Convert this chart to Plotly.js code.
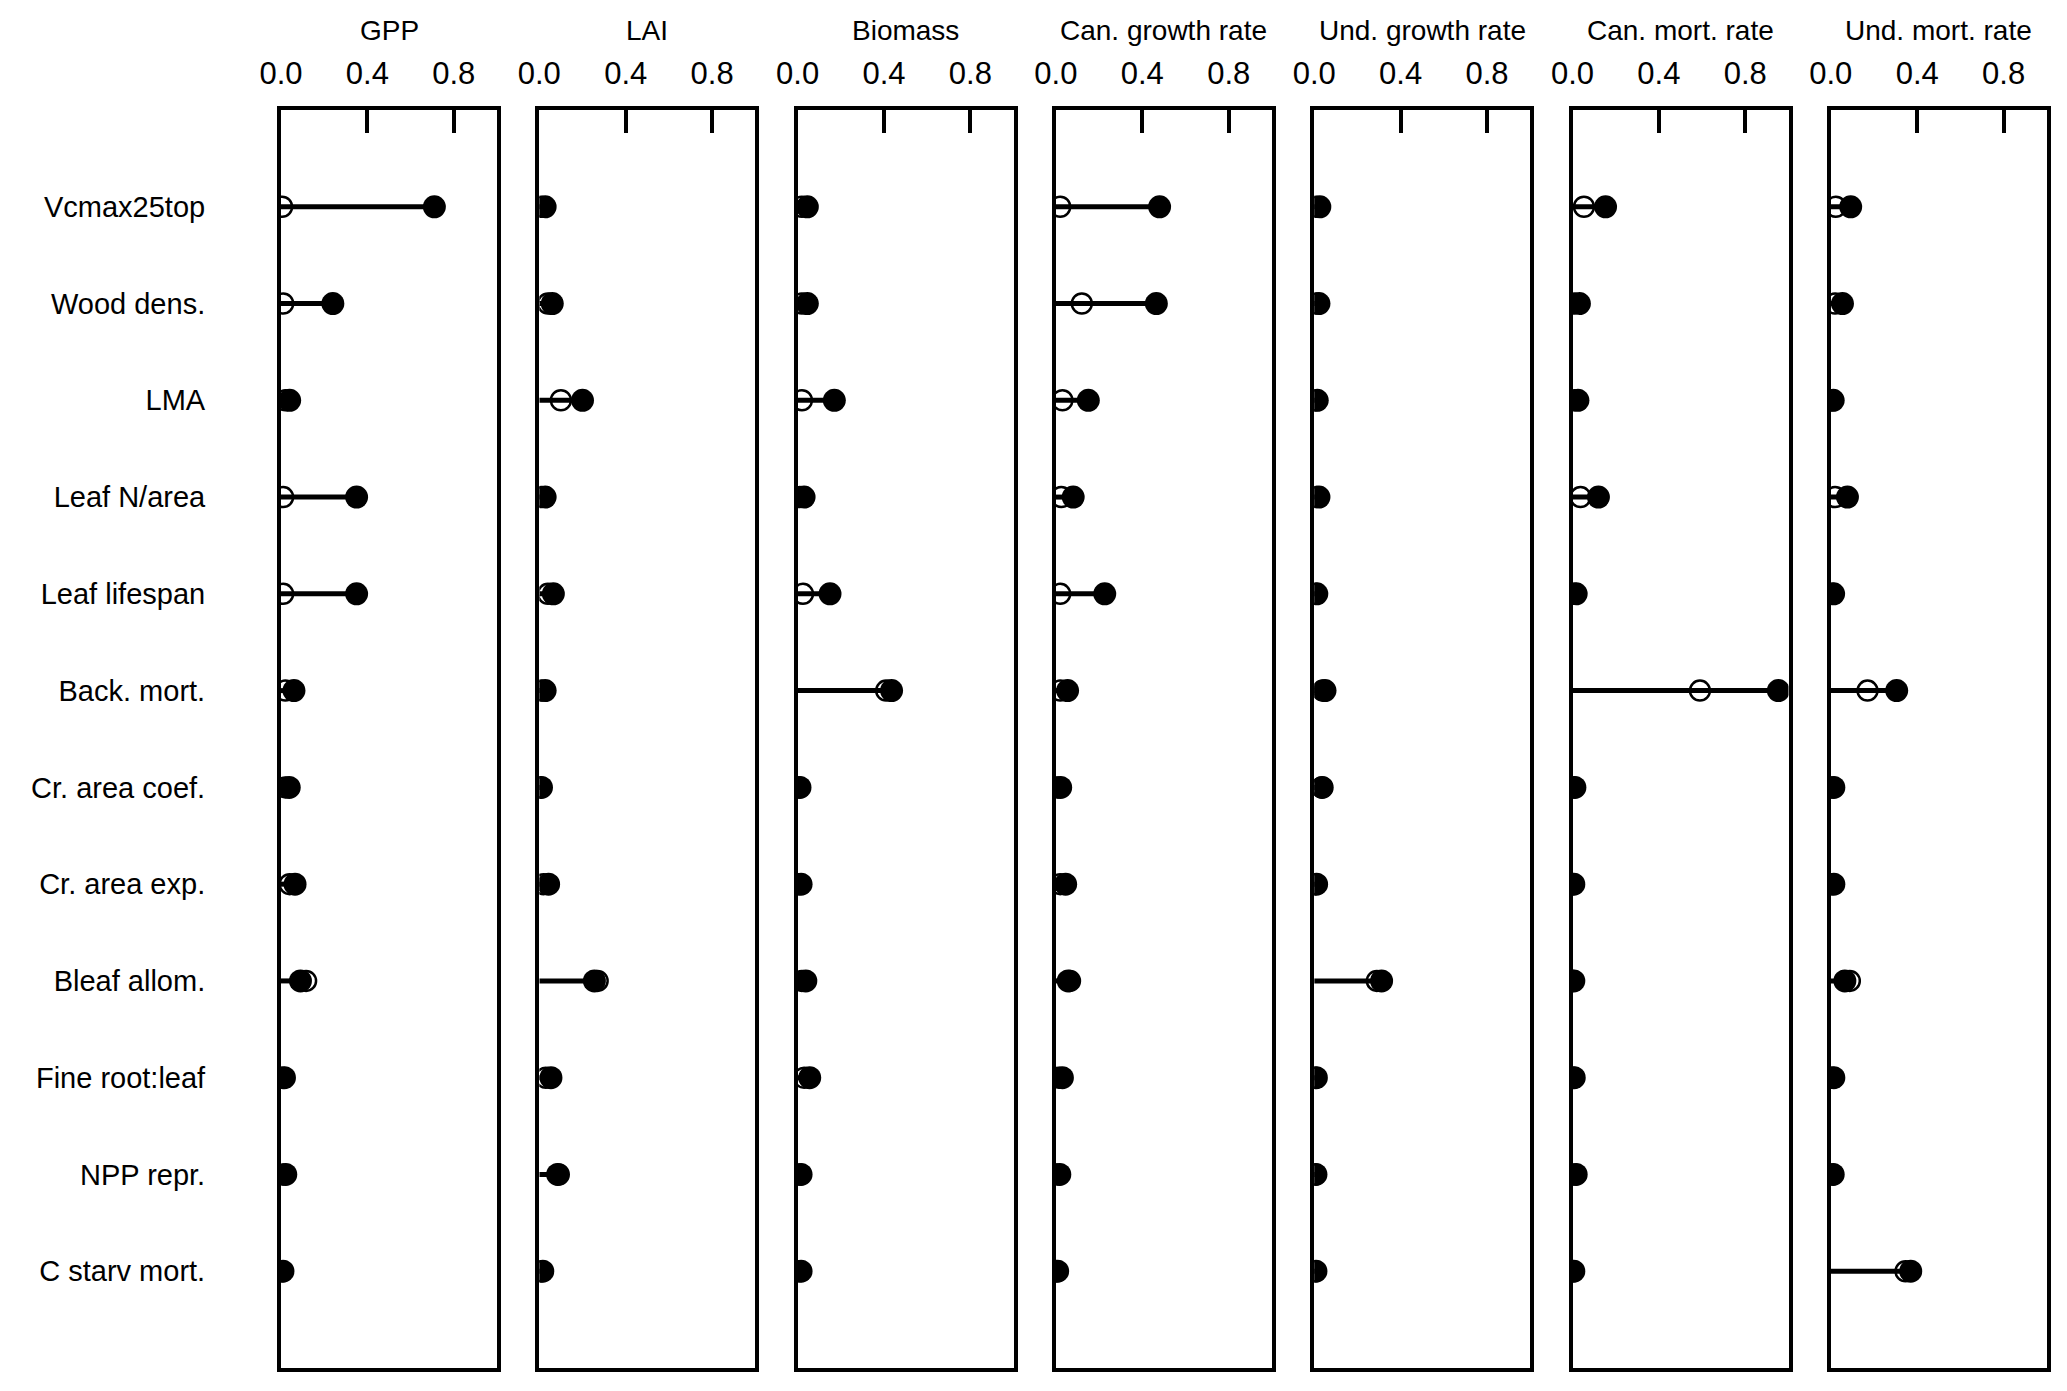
<!DOCTYPE html>
<html>
<head>
<meta charset="utf-8">
<script src="https://cdn.plot.ly/plotly-3.0.1.min.js"></script>
<style>
  body { margin: 0; background: #ffffff; }
  #sensPlot { width: 2067px; height: 1391px; }
</style>
</head>
<body>
<div id="sensPlot"></div>
<script>
/*
 * Sensitivity indices per parameter and output variable.
 * Filled circles = total index, open circles = first order index.
*/
var parameterNames = ["Vcmax25top", "Wood dens.", "LMA", "Leaf N/area",
                      "Leaf lifespan", "Back. mort.", "Cr. area coef.",
                      "Cr. area exp.", "Bleaf allom.", "Fine root:leaf",
                      "NPP repr.", "C starv mort."];
var panelTitles = ["GPP", "LAI", "Biomass", "Can. growth rate",
                   "Und. growth rate", "Can. mort. rate", "Und. mort. rate"];
var tickValues = [0, 0.4, 0.8];
var tickLabels = ["0.0", "0.4", "0.8"];

var gppTotal = [0.71, 0.24, 0.04, 0.35, 0.35, 0.06, 0.038, 0.065, 0.09, 0.016, 0.022, 0.009];
var gppFirst = [0.005, 0.01, 0.02, 0.01, 0.01, 0.02, 0.02, 0.04, 0.116, 0.008, 0.01, 0.004];

var laiTotal = [0.027, 0.06, 0.20, 0.027, 0.065, 0.027, 0.01, 0.043, 0.255, 0.054, 0.085, 0.016];
var laiFirst = [0.01, 0.04, 0.10, 0.01, 0.04, 0.01, 0.005, 0.02, 0.27, 0.03, 0.09, 0.008];

var biomassTotal = [0.045, 0.045, 0.17, 0.03, 0.15, 0.435, 0.011, 0.016, 0.038, 0.056, 0.016, 0.016];
var biomassFirst = [0.02, 0.02, 0.02, 0.01, 0.025, 0.41, 0.005, 0.008, 0.02, 0.03, 0.008, 0.008];

var canGrowthTotal = [0.48, 0.465, 0.15, 0.08, 0.226, 0.054, 0.022, 0.045, 0.057, 0.03, 0.018, 0.008];
var canGrowthFirst = [0.02, 0.12, 0.03, 0.025, 0.02, 0.02, 0.01, 0.02, 0.065, 0.015, 0.008, 0.004];

var undGrowthTotal = [0.026, 0.022, 0.014, 0.022, 0.012, 0.05, 0.037, 0.011, 0.312, 0.01, 0.008, 0.008];
var undGrowthFirst = [0.01, 0.01, 0.006, 0.01, 0.006, 0.04, 0.035, 0.005, 0.29, 0.005, 0.004, 0.004];

var canMortTotal = [0.153, 0.032, 0.025, 0.12, 0.017, 0.953, 0.011, 0.006, 0.006, 0.008, 0.017, 0.006];
var canMortFirst = [0.053, 0.01, 0.01, 0.037, 0.008, 0.59, 0.005, 0.003, 0.003, 0.004, 0.008, 0.003];

var undMortTotal = [0.092, 0.054, 0.011, 0.077, 0.013, 0.305, 0.014, 0.014, 0.065, 0.014, 0.011, 0.37];
var undMortFirst = [0.023, 0.02, 0.005, 0.02, 0.006, 0.17, 0.006, 0.006, 0.088, 0.006, 0.005, 0.346];

var totalIndex = [gppTotal, laiTotal, biomassTotal, canGrowthTotal,
                  undGrowthTotal, canMortTotal, undMortTotal];
var firstIndex = [gppFirst, laiFirst, biomassFirst, canGrowthFirst,
                  undGrowthFirst, canMortFirst, undMortFirst];

var figWidth = 2067;
var figHeight = 1391;
var fontFamily = "Liberation Sans, Arial, Helvetica, sans-serif";

/*
 * Helper: row positions 1..n (top to bottom)
*/
function getRowPositions(n){
  var y = [];
  for(var i=0; i<n; i++){
    y.push(i+1);
  }
  return y;
}

/*
 * Builds the horizontal sticks from 0 to the largest index of each row
*/
function getStickData(total, first, rows){
  var x = [];
  var y = [];
  for(var i=0; i<total.length; i++){
    x.push(0, Math.max(total[i], first[i]), null);
    y.push(rows[i], rows[i], null);
  }
  return {x: x, y: y};
}

function buildPlot(){
  var rows = getRowPositions(parameterNames.length);
  var traces = [];
  var layout = {
    width: figWidth,
    height: figHeight,
    margin: {l: 0, r: 0, t: 0, b: 0},
    paper_bgcolor: "#ffffff",
    plot_bgcolor: "#ffffff",
    showlegend: false,
    hovermode: false,
    font: {family: fontFamily, color: "#000000"},
    annotations: []
  };

  var panelLeft = 281;   //px, left border of first panel
  var panelStep = 258.3; //px between panels
  var panelWidth = 216;
  var yDomain = [1 - 1368/figHeight, 1 - 110/figHeight];

  for(var p=0; p<panelTitles.length; p++){
    var n = p + 1;
    var xName = "x" + (n === 1 ? "" : n);
    var yName = "y" + (n === 1 ? "" : n);
    var left = panelLeft + p*panelStep;

    var stick = getStickData(totalIndex[p], firstIndex[p], rows);
    traces.push({
      x: stick.x, y: stick.y, xaxis: xName, yaxis: yName,
      type: "scatter", mode: "lines",
      line: {color: "#000000", width: 5}
    });
    traces.push({
      x: firstIndex[p], y: rows, xaxis: xName, yaxis: yName,
      type: "scatter", mode: "markers",
      marker: {symbol: "circle-open", size: 20, color: "#000000",
               line: {color: "#000000", width: 2.5}}
    });
    traces.push({
      x: totalIndex[p], y: rows, xaxis: xName, yaxis: yName,
      type: "scatter", mode: "markers",
      marker: {symbol: "circle", size: 23, color: "#000000",
               line: {width: 0}}
    });

    layout["xaxis" + (n === 1 ? "" : n)] = {
      domain: [left/figWidth, (left + panelWidth)/figWidth],
      anchor: yName,
      side: "top",
      range: [0, 1],
      tickvals: tickValues,
      ticktext: tickLabels,
      ticks: "inside",
      ticklen: 23,
      tickwidth: 4,
      tickcolor: "#000000",
      ticklabelstandoff: 10,
      tickfont: {size: 31, family: fontFamily, color: "#000000"},
      showline: true,
      mirror: true,
      linewidth: 4,
      linecolor: "#000000",
      showgrid: false,
      zeroline: false,
      fixedrange: true
    };
    layout["yaxis" + (n === 1 ? "" : n)] = {
      domain: yDomain,
      anchor: xName,
      range: [13, 0],
      tickvals: rows,
      ticktext: parameterNames,
      showticklabels: (p === 0),
      ticks: "",
      ticklabelstandoff: 66,
      tickfont: {size: 29, family: fontFamily, color: "#000000"},
      showline: true,
      mirror: true,
      linewidth: 4,
      linecolor: "#000000",
      showgrid: false,
      zeroline: false,
      fixedrange: true
    };
    layout.annotations.push({
      text: panelTitles[p],
      xref: xName + " domain",
      x: 0.5,
      yref: "paper",
      y: 1 - 31/figHeight,
      xanchor: "center",
      yanchor: "middle",
      showarrow: false,
      font: {size: 28, family: fontFamily, color: "#000000"}
    });
  }

  Plotly.newPlot("sensPlot", traces, layout, {displayModeBar: false, staticPlot: true});
}

window.onload = buildPlot;
</script>
</body>
</html>
